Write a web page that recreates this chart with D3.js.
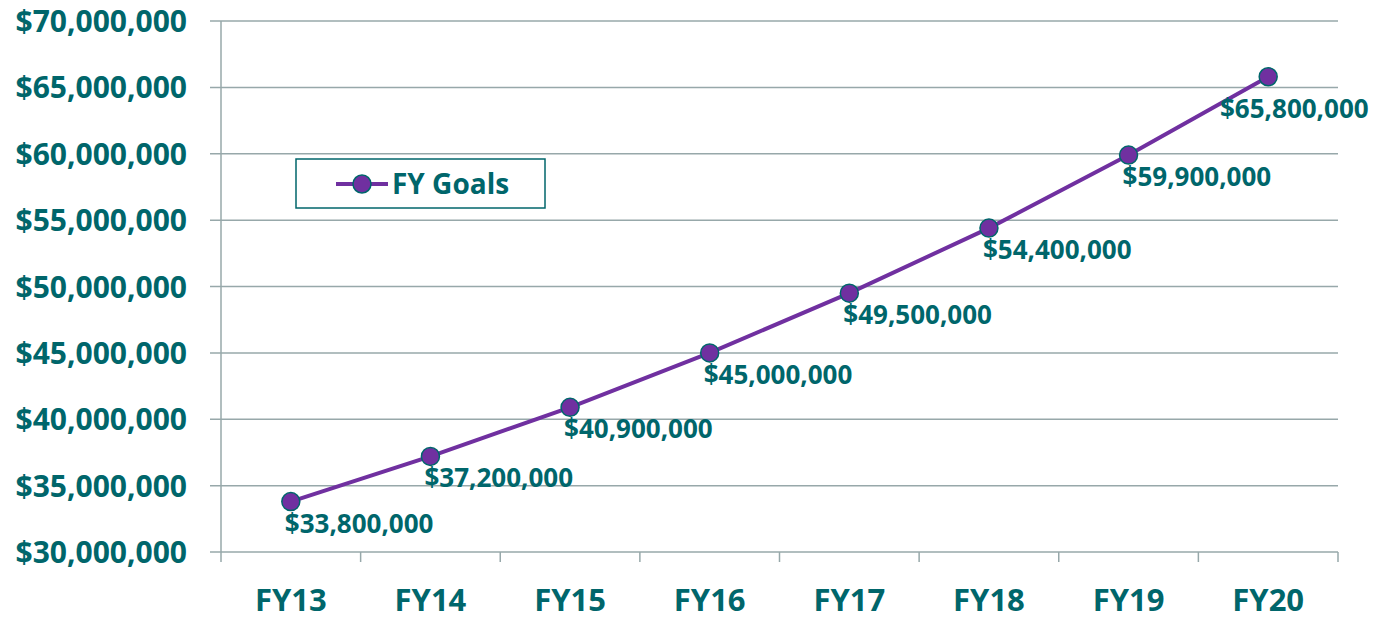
<!DOCTYPE html>
<html>
<head>
<meta charset="utf-8">
<script src="https://cdn.jsdelivr.net/npm/d3@7"></script>
<style>
  body { margin: 0; background: #fff; }
  svg text { font-family: "Open Sans", Lato, sans-serif; font-weight: bold; fill: #00666b; }
</style>
</head>
<body>
<div id="chart"></div>
<script>
// data
let years = ["FY13", "FY14", "FY15", "FY16", "FY17", "FY18", "FY19", "FY20"];
let goals = [33800000, 37200000, 40900000, 45000000, 49500000, 54400000, 59900000, 65800000];
let yTicks = [30000000, 35000000, 40000000, 45000000, 50000000, 55000000, 60000000, 65000000, 70000000];
let seriesName = "FY Goals";

let width = 1376, height = 619;
let margin = {top: 21, right: 38, bottom: 67, left: 221};
let teal = "#00666b", grid = "#97a8aa", purple = "#7030a0";

let svg = d3.select("#chart").append("svg")
    .attr("width", width)
    .attr("height", height);

let x = d3.scaleBand()
    .domain(years)
    .range([margin.left, width - margin.right]);

let y = d3.scaleLinear()
    .domain([30000000, 70000000])
    .range([height - margin.bottom, margin.top]);

let fmt = d3.format("$,");

// gridlines
svg.append("g")
    .selectAll("line")
    .data(yTicks)
    .enter()
    .append("line")
    .attr("x1", margin.left - 11)
    .attr("x2", width - margin.right)
    .attr("y1", d => y(d))
    .attr("y2", d => y(d))
    .attr("stroke", grid)
    .attr("stroke-width", 1.5);

// y axis line
svg.append("line")
    .attr("x1", margin.left).attr("x2", margin.left)
    .attr("y1", margin.top).attr("y2", height - margin.bottom + 10)
    .attr("stroke", grid).attr("stroke-width", 1.5);

// x tick marks at band edges
let edges = years.map(d => x(d)).concat([x(years[years.length - 1]) + x.bandwidth()]);
svg.append("g")
    .selectAll("line")
    .data(edges.slice(1))
    .enter()
    .append("line")
    .attr("x1", d => d).attr("x2", d => d)
    .attr("y1", y(30000000)).attr("y2", y(30000000) + 10)
    .attr("stroke", grid).attr("stroke-width", 1.5);

// y labels
svg.append("g")
    .selectAll("text")
    .data(yTicks)
    .enter()
    .append("text")
    .attr("x", margin.left - 34)
    .attr("y", d => y(d) + 11)
    .attr("text-anchor", "end")
    .style("font-size", "30px")
    .text(d => fmt(d));

// x labels
svg.append("g")
    .selectAll("text")
    .data(years)
    .enter()
    .append("text")
    .attr("x", d => x(d) + x.bandwidth() / 2)
    .attr("y", height - 8)
    .attr("text-anchor", "middle")
    .style("font-size", "31px")
    .text(d => d);

let pts = years.map((d, i) => ({year: d, value: goals[i]}));
let cx = d => x(d.year) + x.bandwidth() / 2;

svg.append("path")
    .datum(pts)
    .attr("d", d3.line().x(cx).y(d => y(d.value)))
    .attr("fill", "none")
    .attr("stroke", purple)
    .attr("stroke-width", 4);

svg.append("g")
    .selectAll("circle")
    .data(pts)
    .enter()
    .append("circle")
    .attr("cx", cx)
    .attr("cy", d => y(d.value))
    .attr("r", 9)
    .attr("fill", purple)
    .attr("stroke", teal)
    .attr("stroke-width", 1.5);

// data labels
svg.append("g")
    .selectAll("text")
    .data(pts)
    .enter()
    .append("text")
    .attr("x", d => Math.min(cx(d) - 6, width - 6 - 150))
    .attr("y", (d, i) => y(d.value) + (i === pts.length - 1 ? 41 : 31))
    .style("font-size", "26px")
    .text(d => fmt(d.value));

// legend
let lg = svg.append("g").attr("transform", "translate(296,159)");
lg.append("rect")
    .attr("width", 249).attr("height", 49)
    .attr("fill", "#fff")
    .attr("stroke", teal).attr("stroke-width", 1.5);
lg.append("line")
    .attr("x1", 40).attr("x2", 92)
    .attr("y1", 25).attr("y2", 25)
    .attr("stroke", purple).attr("stroke-width", 4);
lg.append("circle")
    .attr("cx", 66).attr("cy", 25).attr("r", 9)
    .attr("fill", purple).attr("stroke", teal).attr("stroke-width", 1.5);
lg.append("text")
    .attr("x", 96).attr("y", 35)
    .style("font-size", "28px")
    .text(seriesName);
</script>
</body>
</html>
